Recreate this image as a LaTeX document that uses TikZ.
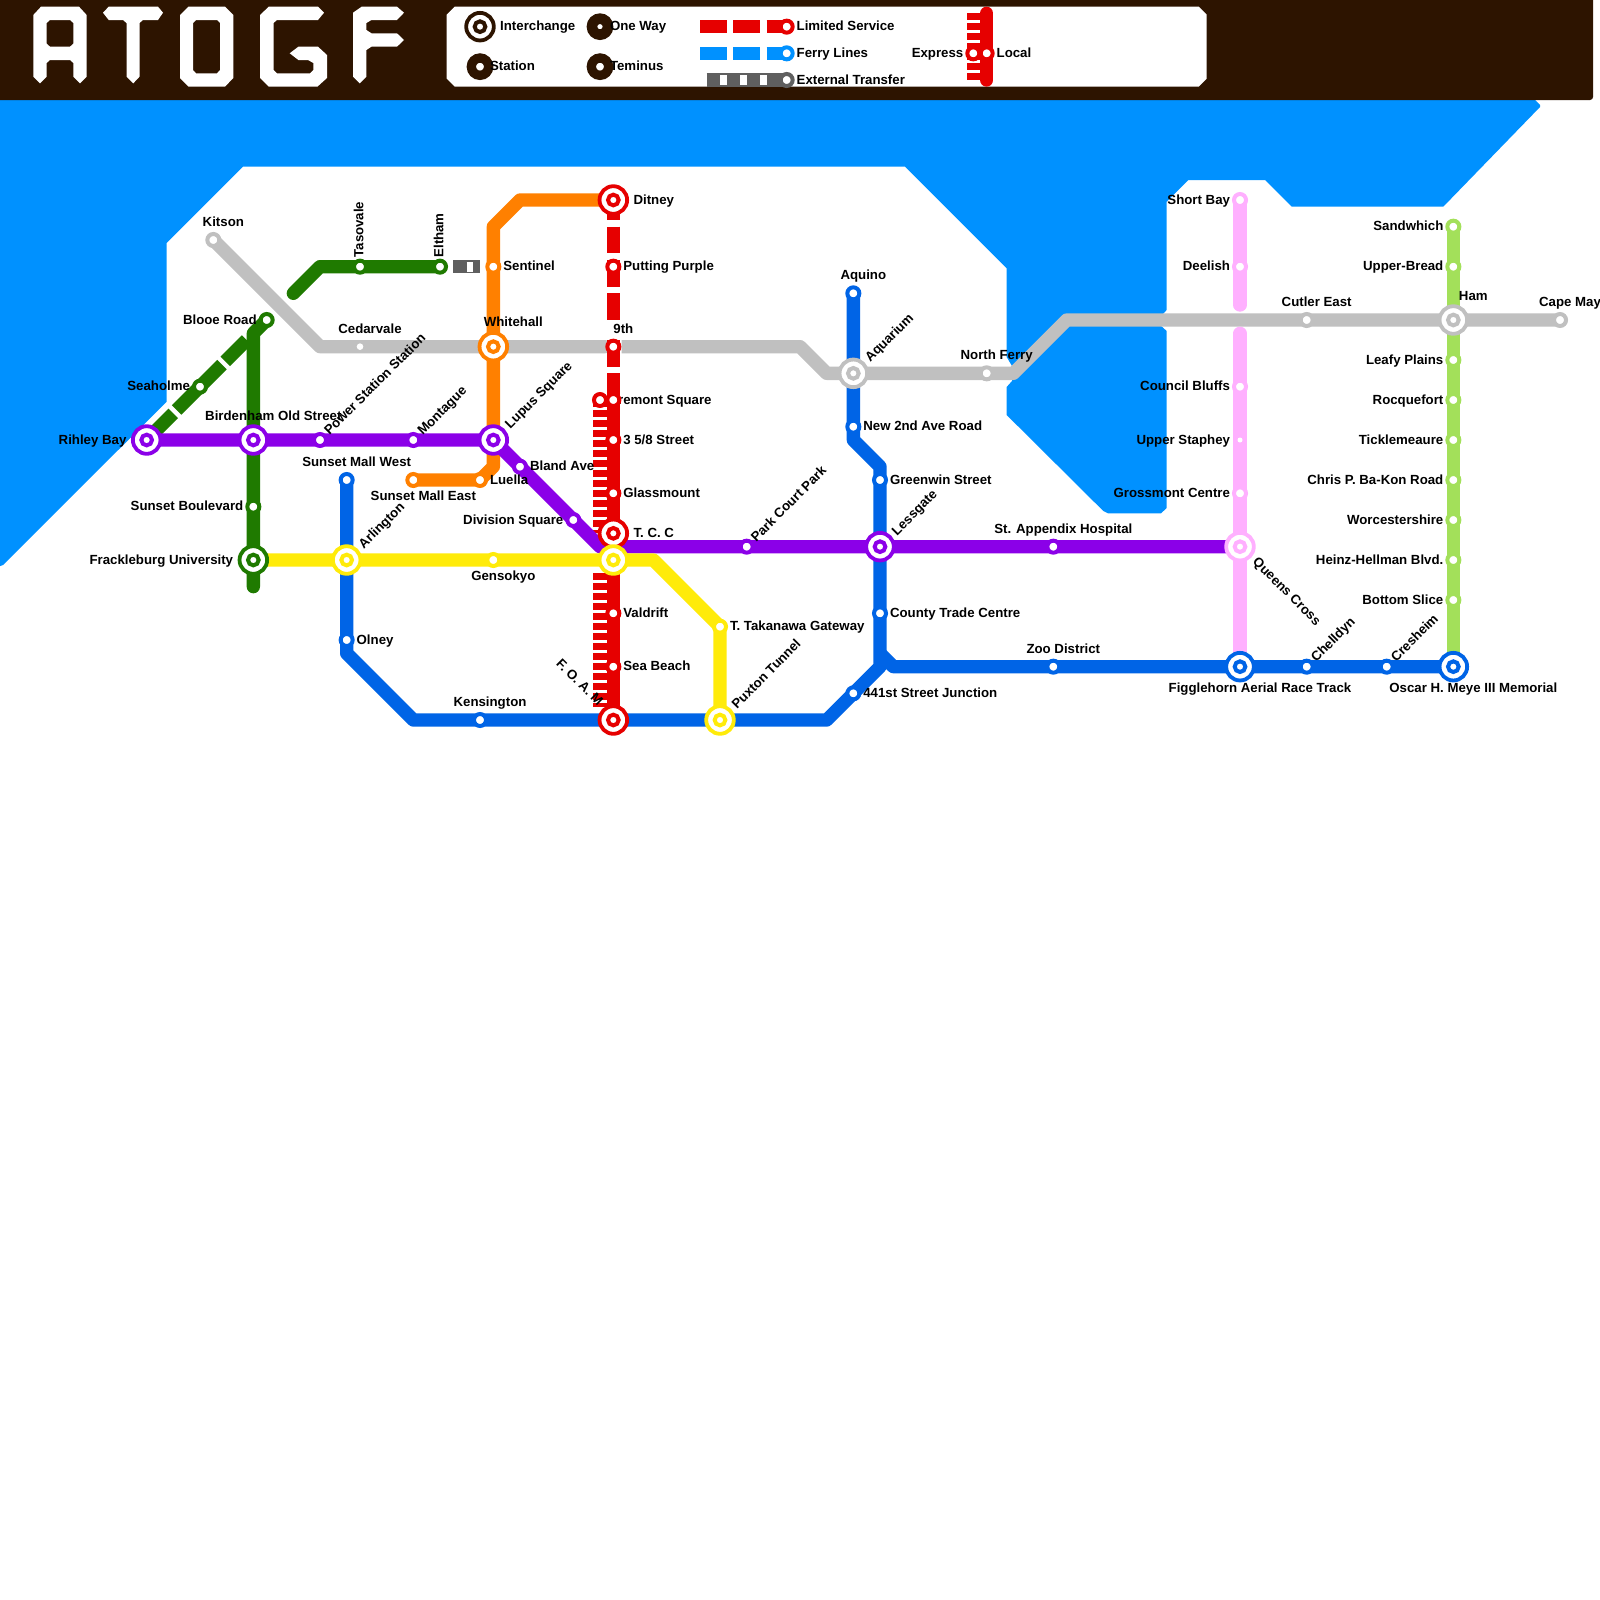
\documentclass[tikz,border=0pt]{standalone}
\usepackage{fontspec}
\setmainfont{Liberation Sans}
\definecolor{cPurple}{HTML}{8B00E8}
\definecolor{cGreen}{HTML}{1F7A00}
\definecolor{cBlue}{HTML}{0064E6}
\definecolor{cRed}{HTML}{E60000}
\definecolor{cOrange}{HTML}{FF8000}
\definecolor{cYellow}{HTML}{FFEB0A}
\definecolor{cPink}{HTML}{FFB0FF}
\definecolor{cLime}{HTML}{A3E05A}
\definecolor{cGrey}{HTML}{C0C0C0}
\definecolor{cBrown}{HTML}{2D1400}
\definecolor{cWater}{HTML}{0091FF}
\definecolor{cExt}{HTML}{5F5F5F}
\tikzset{
  rail/.style={line width=13.333pt,draw=#1,line join=round},
  railr/.style={rail=#1,line cap=round},
  hatch/.style={line width=13.333pt,draw=cRed,dash pattern=on 6.667pt off 3.333pt},
  st/.style={circle,inner sep=0pt,minimum size=12pt,line width=4pt,draw=#1,fill=white},
  tiny/.style={circle,inner sep=0pt,minimum size=#1,fill=white},
  ic/.style={circle,inner sep=0pt,minimum size=27.6pt,line width=3.8pt,draw=#1,fill=white,
    label={[circle,inner sep=0pt,minimum size=10.67pt,line width=4pt,draw=#1,fill=white]center:}},
  big/.style={circle,inner sep=0pt,minimum size=17.33pt,line width=9.33pt,draw=cBrown,fill=white},
  bigw/.style={circle,inner sep=0pt,minimum size=16pt,line width=10.6pt,draw=cBrown,fill=white},
  lbl/.style={font=\bfseries\fontsize{13.25}{15}\selectfont,text=black,inner sep=0pt},
  lE/.style={lbl,anchor=base west,xshift=9.8pt,yshift=-4pt},
  lW/.style={lbl,anchor=base east,xshift=-9.8pt,yshift=-4pt},
  lEi/.style={lbl,anchor=base west,xshift=20pt,yshift=-4pt},
  lWi/.style={lbl,anchor=base east,xshift=-20pt,yshift=-4pt},
  lN/.style={lbl,anchor=base,xshift=10pt,yshift=13.6pt},
  lNi/.style={lbl,anchor=base,xshift=20pt,yshift=20pt},
  lS/.style={lbl,anchor=base,xshift=10pt,yshift=-20pt},
  lSi/.style={lbl,anchor=base,xshift=20pt,yshift=-26pt},
  lNE/.style={lbl,xshift=9.5pt,yshift=4pt,anchor=base west,rotate=45},
  lNEi/.style={lbl,xshift=17pt,yshift=10.5pt,anchor=base west,rotate=45},
  lUp/.style={lbl,xshift=3.3pt,yshift=9pt,anchor=base west,rotate=90},
  logo/.style={fill=white,draw=none,even odd rule},
}
\begin{document}
\begin{tikzpicture}[x=13.3333pt,y=-13.3333pt]
\useasboundingbox (0,0) rectangle (120,120);
\fill[white] (0,0) rectangle (120,120);
% ---------- water
\begin{scope}[x=1pt,y=-1pt]
\fill[cWater] (-5,96) -- (1535,96) -- (1535,100) -- (1540,105) -- (1540,107) -- (1443.3,206.67) -- (1291.67,206.67) -- (1265,180) -- (1188.3,180) -- (1166.67,201.67) -- (1166.67,310) -- (1160,317) -- (1160,325) -- (1166.67,331) -- (1166.67,508) -- (1161,513.3) -- (1108,513.3) -- (1103.3,511) -- (1006.67,415) -- (1006.67,387) -- (1012,381) -- (1012,366) -- (1006.67,357) -- (1006.67,268.3) -- (905,166.67) -- (243,166.67) -- (166.67,243) -- (166.67,401.67) -- (3,565) -- (-5,568) -- cycle;
% ---------- header
\fill[cBrown,rounded corners=3pt] (-5,-5) rectangle (1593,100);
\fill[cBrown] (-5,-5) rectangle (1593,50);
% ---------- logo
\fill[logo] (33.3,15) -- (41,6.67) -- (79,6.67) -- (86.67,15) -- (86.67,76.7) -- (80,83.3) -- (73.33,76.7) -- (73.33,63) -- (70,60) -- (50,60) -- (46.67,63) -- (46.67,76.7) -- (40,83.3) -- (33.3,76.7) -- cycle
  (50,20) -- (70,20) -- (73.33,23) -- (73.33,43.6) -- (70,46.67) -- (50,46.67) -- (46.67,43.6) -- (46.67,23) -- cycle;
\fill[logo] (103,12.7) -- (108.7,6.67) -- (158,6.67) -- (163,12.7) -- (158,20) -- (143,20) -- (139.5,23) -- (139.5,76.7) -- (133.3,83.3) -- (126.5,76.7) -- (126.5,23) -- (123,20) -- (108.7,20) -- cycle;
\fill[logo] (180,15) -- (188.5,6.67) -- (225,6.67) -- (233.3,15) -- (233.3,78) -- (225,86.67) -- (188.5,86.67) -- (180,78) -- cycle
  (196,20) -- (217,20) -- (220,23) -- (220,70) -- (217,73.3) -- (196,73.3) -- (193,70) -- (193,23) -- cycle;
\fill[logo] (260,15) -- (268.8,6.67) -- (318,6.67) -- (324,12.7) -- (318,20) -- (277,20) -- (273.5,23) -- (273.5,70) -- (277,73.3) -- (310,73.3) -- (313.3,70) -- (313.3,63) -- (308,60) -- (298.4,60) -- (289.7,53.3) -- (298.4,46.67) -- (318,46.67) -- (327,55) -- (327,78) -- (317.4,86.67) -- (268.8,86.67) -- (260,78) -- cycle;
\fill[logo] (353,12.7) -- (361.7,6.67) -- (397,6.67) -- (404,12.7) -- (397,20) -- (371.5,20) -- (366.4,23) -- (366.4,30) -- (371.5,33.3) -- (397,33.3) -- (404,40) -- (397,46.67) -- (371.5,46.67) -- (366.4,50) -- (366.4,76.7) -- (359.7,83.3) -- (353,76.7) -- cycle;
% ---------- legend box
\fill[white] (454.67,6.67) -- (1198.67,6.67) -- (1206.67,14.67) -- (1206.67,78.67) -- (1198.67,86.67) -- (454.67,86.67) -- (446.67,78.67) -- (446.67,14.67) -- cycle;
\end{scope}
% ---------- legend
\coordinate (kLimA) at (52.5,2); \coordinate (kLimB) at (59,2);
\coordinate (kFerA) at (52.5,4); \coordinate (kFerB) at (59,4);
\coordinate (kExtA) at (53,6); \coordinate (kExtB) at (59,6);
\coordinate (kExtW) at (54,6); \coordinate (kExtX) at (58.5,6);
\coordinate (kLocA) at (74,1); \coordinate (kLocB) at (74,6);
\coordinate (kExpA) at (73,1); \coordinate (kExpB) at (73,6);
\draw[line width=13.333pt,draw=cRed,dash pattern=on 26.667pt off 6.667pt] (kLimA) -- (kLimB);
\draw[line width=13.333pt,draw=cWater,dash pattern=on 26.667pt off 6.667pt] (kFerA) -- (kFerB);
\draw[line width=13.333pt,draw=cExt] (kExtA) -- (kExtB);
\draw[line width=10pt,draw=white,dash pattern=on 6.667pt off 13.333pt] (kExtW) -- (kExtX);
\draw[hatch] (kExpA) -- (kExpB);
\draw[railr=cRed] (kLocA) -- (kLocB);
\node[ic=cBrown] (kI) at (36,2) {};
\node[big] (kS) at (36,5) {};
\node[bigw] (kO) at (45,2) {};
\node[big] (kT) at (45,5) {};
\node[st=cRed] (kL) at (59,2) {};
\node[st=cWater] (kF) at (59,4) {};
\node[st=cExt] (kE) at (59,6) {};
\node[st=cRed] (kEx) at (73,4) {};
\node[st=cRed] (kLo) at (74,4) {};
\node[lEi] (tkI) at (kI) {Interchange};
\node[lE] (tkS) at (kS) {Station};
\node[lE] (tkO) at (kO) {One Way};
\node[lE] (tkT) at (kT) {Teminus};
\node[lE] (tkL) at (kL) {Limited Service};
\node[lE] (tkF) at (kF) {Ferry Lines};
\node[lE] (tkE) at (kE) {External Transfer};
\node[lW] (tkEx) at (kEx) {Express};
\node[lE] (tkLo) at (kLo) {Local};
% ---------- way points
\coordinate (gKit) at (16,18); \coordinate (b1) at (24,26); \coordinate (gGapW) at (45.37,26);
\coordinate (gGapE) at (46.63,26); \coordinate (b2) at (60,26); \coordinate (b3) at (62,28);
\coordinate (b4) at (76,28); \coordinate (b5) at (80,24); \coordinate (gEnd) at (117,24);
\coordinate (gr0) at (22,22); \coordinate (gr1) at (24,20); \coordinate (gr2) at (33,20);
\coordinate (gB) at (20,24); \coordinate (gC) at (19,25); \coordinate (gEndS) at (19,44);
\coordinate (d1a) at (11,33); \coordinate (d1b) at (13,31); \coordinate (d2a) at (13.25,30.75);
\coordinate (d2b) at (16.65,27.35); \coordinate (d3a) at (16.9,27.1); \coordinate (d3b) at (18.5,25.5);
\coordinate (oTop1) at (37,17); \coordinate (oTop2) at (39,15); \coordinate (oLo1) at (37,35);
\coordinate (oLo2) at (36,36);
\coordinate (pB) at (45,41);
\coordinate (yB) at (49,42); \coordinate (yC) at (54,47);
\coordinate (blA) at (26,49); \coordinate (blB) at (31,54); \coordinate (blC) at (62,54);
\coordinate (blD) at (66,50); \coordinate (blE) at (66,35); \coordinate (blF) at (64,33);
\coordinate (blG) at (66,49); \coordinate (blH) at (67,50);
\coordinate (pkA) at (93,22.875); \coordinate (pkB) at (93,25);
\coordinate (rHA) at (45,30); \coordinate (rHB) at (45,40);
\coordinate (rHC) at (45,43); \coordinate (rHD) at (45,53);
\coordinate (xA) at (34,20); \coordinate (xB) at (36,20);
\coordinate (xC) at (35,20); \coordinate (xD) at (35.5,20);
\foreach \n/\a/\b in {ra/46/16.5,rb/46/17,rc/46/19,rd/46/19.5,re/46/21.5,rf/46/22,rg/46/24,rh/46/25.5,ri/46/27.5,rj/46/28}
  {\coordinate (\n) at (\a,\b);}
% ---------- stations as places
\coordinate (Rihley) at (11,33); \coordinate (Birden) at (19,33); \coordinate (Power) at (24,33);
\coordinate (Montague) at (31,33); \coordinate (Lupus) at (37,33); \coordinate (Whitehall) at (37,26);
\coordinate (Cedar) at (27,26); \coordinate (Tasov) at (27,20); \coordinate (Eltham) at (33,20);
\coordinate (Blooe) at (20,24); \coordinate (Seah) at (15,29); \coordinate (Sentinel) at (37,20);
\coordinate (Ditney) at (46,15); \coordinate (Putting) at (46,20); \coordinate (Ninth) at (46,26);
\coordinate (Trem) at (46,30); \coordinate (TremX) at (45,30); \coordinate (Street) at (46,33);
\coordinate (Glass) at (46,37); \coordinate (TCC) at (46,40); \coordinate (Yint) at (46,42);
\coordinate (Gens) at (37,42); \coordinate (Vald) at (46,46); \coordinate (Sea) at (46,50);
\coordinate (FOAM) at (46,54); \coordinate (Kens) at (36,54); \coordinate (Pux) at (54,54);
\coordinate (Taka) at (54,47); \coordinate (Park) at (56,41); \coordinate (Bland) at (39,35);
\coordinate (Divis) at (43,39); \coordinate (Less) at (66,41); \coordinate (Appx) at (79,41);
\coordinate (Queens) at (93,41); \coordinate (Zoo) at (79,50); \coordinate (Figgle) at (93,50);
\coordinate (Chell) at (98,50); \coordinate (Cres) at (104,50); \coordinate (Oscar) at (109,50);
\coordinate (J441) at (64,52); \coordinate (County) at (66,46); \coordinate (Green) at (66,36);
\coordinate (New2) at (64,32); \coordinate (Aqua) at (64,28); \coordinate (Aquino) at (64,22);
\coordinate (NFerry) at (74,28); \coordinate (Ham) at (109,24); \coordinate (Cape) at (117,24);
\coordinate (Cutler) at (98,24); \coordinate (Short) at (93,15); \coordinate (Deel) at (93,20);
\coordinate (Council) at (93,29); \coordinate (Upper) at (93,33); \coordinate (Gross) at (93,37);
\coordinate (Sand) at (109,17); \coordinate (UBread) at (109,20); \coordinate (Leafy) at (109,27);
\coordinate (Rocq) at (109,30); \coordinate (Tick) at (109,33); \coordinate (Chris) at (109,36);
\coordinate (Worc) at (109,39); \coordinate (Heinz) at (109,42); \coordinate (Bottom) at (109,45);
\coordinate (Kitson) at (16,18); \coordinate (SMW) at (26,36); \coordinate (Arl) at (26,42);
\coordinate (Olney) at (26,48); \coordinate (SMEast) at (31,36); \coordinate (Luella) at (36,36);
\coordinate (SBlvd) at (19,38); \coordinate (Frack) at (19,42);
% label drawn under the local line
\node[lE] (tTrem) at (TremX) {Fremont Square};
% ---------- lines
\draw[rail=cGrey,line cap=round] (gKit) -- (b1) -- (gGapW);
\draw[rail=cGrey] (gGapE) -- (b2) -- (b3) -- (b4) -- (b5) -- (gEnd);
\draw[rail=cExt] (xA) -- (xB);
\draw[line width=10pt,draw=white] (xC) -- (xD);
\draw[railr=cGreen] (gr0) -- (gr1) -- (gr2);
\draw[rail=cGreen] (d1a) -- (d1b);
\draw[rail=cGreen] (d2a) -- (d2b);
\draw[rail=cGreen] (d3a) -- (d3b);
\draw[railr=cGreen] (gB) -- (gC) -- (gEndS);
\draw[hatch] (rHA) -- (rHB);
\draw[hatch] (rHC) -- (rHD);
\draw[rail=cBlue] (SMW) -- (blA) -- (blB) -- (blC) -- (blD) -- (blE) -- (blF) -- (Aquino);
\draw[rail=cBlue] (blG) -- (blH) -- (Oscar);
\draw[rail=cOrange] (Ditney) -- (oTop2) -- (oTop1) -- (Lupus) -- (oLo1) -- (oLo2) -- (SMEast);
\draw[rail=cPurple] (Rihley) -- (Lupus) -- (pB) -- (Queens);
\draw[rail=cYellow] (Frack) -- (yB) -- (yC) -- (Pux);
\draw[railr=cPink] (Short) -- (pkA);
\draw[railr=cPink] (pkB) -- (Figgle);
\draw[rail=cLime] (Sand) -- (Oscar);
\draw[rail=cRed] (Ditney) -- (ra);
\draw[rail=cRed] (rb) -- (rc);
\draw[rail=cRed] (rd) -- (re);
\draw[rail=cRed] (rf) -- (rg);
\draw[rail=cRed] (rh) -- (ri);
\draw[rail=cRed] (rj) -- (FOAM);
% ---------- stations
\node[st=cRed] (nTremX) at (TremX) {};
\foreach \n in {Putting,Ninth,Trem,Street,Glass,Vald,Sea}{\node[st=cRed] (n\n) at (\n) {};}
\foreach \n in {Seah,Blooe,SBlvd,Tasov,Eltham}{\node[st=cGreen] (n\n) at (\n) {};}
\foreach \n in {Power,Montague,Bland,Divis,Park,Appx}{\node[st=cPurple] (n\n) at (\n) {};}
\foreach \n in {SMEast,Luella,Sentinel}{\node[st=cOrange] (n\n) at (\n) {};}
\foreach \n in {Kitson,NFerry,Cutler,Cape}{\node[st=cGrey] (n\n) at (\n) {};}
\foreach \n in {SMW,Olney,Kens,J441,Aquino,New2,Green,County,Zoo,Chell,Cres}{\node[st=cBlue] (n\n) at (\n) {};}
\foreach \n in {Gens,Taka}{\node[st=cYellow] (n\n) at (\n) {};}
\foreach \n in {Short,Deel,Council,Gross}{\node[st=cPink] (n\n) at (\n) {};}
\foreach \n in {Sand,UBread,Leafy,Rocq,Tick,Chris,Worc,Heinz,Bottom}{\node[st=cLime] (n\n) at (\n) {};}
\node[tiny=6.6pt] (nCedar) at (Cedar) {};
\node[tiny=5pt] (nUpper) at (Upper) {};
\foreach \n in {Rihley,Birden,Lupus,Less}{\node[ic=cPurple] (n\n) at (\n) {};}
\node[ic=cOrange] (nWhitehall) at (Whitehall) {};
\foreach \n in {Ditney,TCC,FOAM}{\node[ic=cRed] (n\n) at (\n) {};}
\foreach \n in {Yint,Arl,Pux}{\node[ic=cYellow] (n\n) at (\n) {};}
\node[ic=cGreen] (nFrack) at (Frack) {};
\foreach \n in {Aqua,Ham}{\node[ic=cGrey] (n\n) at (\n) {};}
\node[ic=cPink] (nQueens) at (Queens) {};
\foreach \n in {Figgle,Oscar}{\node[ic=cBlue] (n\n) at (\n) {};}
% ---------- labels
\node[lWi] (t1) at (Rihley) {Rihley Bay};
\node[lNi] (t2) at (Birden) {Birdenham Old Street};
\node[lNE] (t3) at (Power) {Power Station Station};
\node[lNE] (t4) at (Montague) {Montague};
\node[lNEi] (t5) at (Lupus) {Lupus Square};
\node[lNi] (t6) at (Whitehall) {Whitehall};
\node[lN] (t7) at (Cedar) {Cedarvale};
\node[lN] (t8) at (Kitson) {Kitson};
\node[lUp] (t9) at (Tasov) {Tasovale};
\node[lUp] (t10) at (Eltham) {Eltham};
\node[lW] (t11) at (Blooe) {Blooe Road};
\node[lW] (t12) at (Seah) {Seaholme};
\node[lE] (t13) at (Sentinel) {Sentinel};
\node[lEi] (t14) at (Ditney) {Ditney};
\node[lE] (t15) at (Putting) {Putting Purple};
\node[lN] (t16) at (Ninth) {9th};
\node[lE] (t17) at (Street) {3 5/8 Street};
\node[lE] (t18) at (Glass) {Glassmount};
\node[lEi] (t19) at (TCC) {T. C. C};
\node[lS] (t20) at (Gens) {Gensokyo};
\node[lE] (t21) at (Vald) {Valdrift};
\node[lE] (t22) at (Sea) {Sea Beach};
\node[lbl,xshift=-15.5pt,yshift=13.3pt,anchor=base east,rotate=-45] (t23) at (FOAM) {F. O. A. M};
\node[lN] (t24) at (Kens) {Kensington};
\node[lNEi] (t25) at (Pux) {Puxton Tunnel};
\node[lE] (t26) at (Taka) {T. Takanawa Gateway};
\node[lNE] (t27) at (Park) {Park Court Park};
\node[lE] (t28) at (Bland) {Bland Ave};
\node[lW] (t29) at (Divis) {Division Square};
\node[lNEi] (t30) at (Less) {Lessgate};
\node[lN] (t31) at (Appx) {St. Appendix Hospital};
\node[lbl,xshift=12pt,yshift=-16pt,anchor=base west,rotate=-45] (t32) at (Queens) {Queens Cross};
\node[lN] (t33) at (Zoo) {Zoo District};
\node[lSi] (t34) at (Figgle) {Figglehorn Aerial Race Track};
\node[lNE] (t35) at (Chell) {Chelldyn};
\node[lNE] (t36) at (Cres) {Cresheim};
\node[lSi] (t37) at (Oscar) {Oscar H. Meye III Memorial};
\node[lE] (t38) at (J441) {441st Street Junction};
\node[lE] (t39) at (County) {County Trade Centre};
\node[lE] (t40) at (Green) {Greenwin Street};
\node[lE] (t41) at (New2) {New 2nd Ave Road};
\node[lNEi] (t42) at (Aqua) {Aquarium};
\node[lN] (t43) at (Aquino) {Aquino};
\node[lN] (t44) at (NFerry) {North Ferry};
\node[lNi] (t45) at (Ham) {Ham};
\node[lN] (t46) at (Cape) {Cape May};
\node[lN] (t47) at (Cutler) {Cutler East};
\node[lW] (t48) at (Short) {Short Bay};
\node[lW] (t49) at (Deel) {Deelish};
\node[lW] (t50) at (Council) {Council Bluffs};
\node[lW] (t51) at (Upper) {Upper Staphey};
\node[lW] (t52) at (Gross) {Grossmont Centre};
\node[lW] (t53) at (Sand) {Sandwhich};
\node[lW] (t54) at (UBread) {Upper-Bread};
\node[lW] (t55) at (Leafy) {Leafy Plains};
\node[lW] (t56) at (Rocq) {Rocquefort};
\node[lW] (t57) at (Tick) {Ticklemeaure};
\node[lW] (t58) at (Chris) {Chris P. Ba-Kon Road};
\node[lW] (t59) at (Worc) {Worcestershire};
\node[lW] (t60) at (Heinz) {Heinz-Hellman Blvd.};
\node[lW] (t61) at (Bottom) {Bottom Slice};
\node[lN] (t62) at (SMW) {Sunset Mall West};
\node[lNEi] (t63) at (Arl) {Arlington};
\node[lE] (t64) at (Olney) {Olney};
\node[lS] (t65) at (SMEast) {Sunset Mall East};
\node[lE] (t66) at (Luella) {Luella};
\node[lW] (t67) at (SBlvd) {Sunset Boulevard};
\node[lWi] (t68) at (Frack) {Frackleburg University};
\end{tikzpicture}
\end{document}
